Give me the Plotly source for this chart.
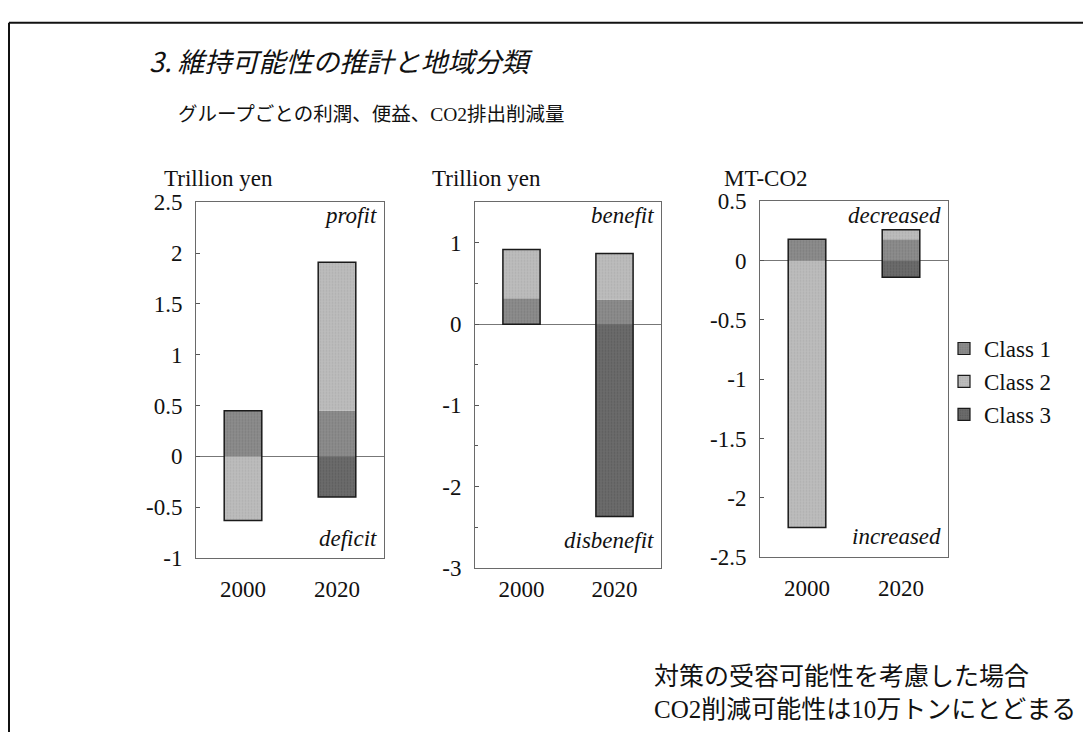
import plotly.graph_objects as go

W, H = 1083, 745

years = ["2000", "2020"]
class_names = ["Class 1", "Class 2", "Class 3"]
class_colors = ["#8c8c8c", "#bdbdbd", "#6b6b6b"]
class_grain = ["#6e6e6e", "#a0a0a0", "#4e4e4e"]

# profit / deficit by group (trillion yen)
profit_class1 = [0.45, 0.45]
profit_class2 = [-0.63, 1.46]
profit_class3 = [0.0, -0.40]

# benefit / disbenefit by group (trillion yen)
benefit_class1 = [0.32, 0.30]
benefit_class2 = [0.60, 0.57]
benefit_class3 = [0.0, -2.37]

# CO2 reduction by group (MT-CO2)
co2_class1 = [0.18, 0.18]
co2_class2 = [-2.25, 0.08]
co2_class3 = [0.0, -0.14]

profit_tickvals = [-1, -0.5, 0, 0.5, 1, 1.5, 2, 2.5]
profit_ticktext = ["-1", "-0.5", "0", "0.5", "1", "1.5", "2", "2.5"]
benefit_tickvals = [-3, -2, -1, 0, 1]
benefit_ticktext = ["-3", "-2", "-1", "0", "1"]
co2_tickvals = [-2.5, -2, -1.5, -1, -0.5, 0, 0.5]
co2_ticktext = ["-2.5", "-2", "-1.5", "-1", "-0.5", "0", "0.5"]

SERIF = "Liberation Serif, Times New Roman, serif"
MIXED = "Liberation Serif, Noto Sans CJK JP, serif"
GOTHIC = "Noto Sans CJK JP, sans-serif"
INK = "#111111"


def px(x):
    return x / W


def py(y):
    return 1 - y / H


def stack(series):
    """Bases for each segment, plus positive/negative totals per category."""
    n = len(series[0])
    pos = [0.0] * n
    neg = [0.0] * n
    bases = []
    for s in series:
        b = []
        for i, v in enumerate(s):
            if v >= 0:
                b.append(pos[i])
                pos[i] += v
            else:
                b.append(neg[i])
                neg[i] += v
        bases.append(b)
    return bases, pos, neg


def fill(color, grain):
    return dict(color=color,
                pattern=dict(shape=".", size=3, solidity=0.3,
                             fgcolor=grain, bgcolor=color, fillmode="overlay"))


panels = [
    dict(series=[profit_class1, profit_class2, profit_class3],
         xd=(196, 384), yd=(197, 565), rng=[-1, 2.5],
         tv=profit_tickvals, tt=profit_ticktext, minor=None,
         unit="Trillion yen", unit_x=162, top="profit", bottom="deficit",
         bottom_y=545, standoff=10),
    dict(series=[benefit_class1, benefit_class2, benefit_class3],
         xd=(475, 661), yd=(197, 575), rng=[-3, 1.5],
         tv=benefit_tickvals, tt=benefit_ticktext, minor=0.5,
         unit="Trillion yen", unit_x=430, top="benefit", bottom="disbenefit",
         bottom_y=547, standoff=1),
    dict(series=[co2_class1, co2_class2, co2_class3],
         xd=(760, 948), yd=(196, 564), rng=[-2.5, 0.5],
         tv=co2_tickvals, tt=co2_ticktext, minor=None,
         unit="MT-CO2", unit_x=722, top="decreased", bottom="increased",
         bottom_y=543, standoff=10),
]

fig = go.Figure()
annotations = []

for k, p in enumerate(panels, start=1):
    xa = "x" if k == 1 else f"x{k}"
    ya = "y" if k == 1 else f"y{k}"
    bases, pos, neg = stack(p["series"])
    for vals, base, color, grain, name in zip(p["series"], bases, class_colors,
                                              class_grain, class_names):
        m = fill(color, grain)
        m["line"] = dict(width=0)
        fig.add_trace(go.Bar(
            x=years, y=vals, base=base, width=0.4, name=name, marker=m,
            showlegend=False, xaxis=xa, yaxis=ya, hoverinfo="skip",
        ))
    # outline around each whole stacked column
    fig.add_trace(go.Bar(
        x=years, y=[a - b for a, b in zip(pos, neg)], base=neg, width=0.4,
        marker=dict(color="rgba(0,0,0,0)", line=dict(color="#1a1a1a", width=1.5)),
        showlegend=False, xaxis=xa, yaxis=ya, hoverinfo="skip",
    ))

    axis_suffix = "" if k == 1 else str(k)
    fig.layout["xaxis" + axis_suffix] = dict(
        domain=[px(p["xd"][0]), px(p["xd"][1])], anchor=ya, type="category",
        range=[-0.5, 1.5], showline=True, mirror=True, linecolor="#6a6a6a",
        linewidth=1, ticks="", showgrid=False, zeroline=False,
        tickfont=dict(family=SERIF, size=23, color=INK),
        ticklabelstandoff=p["standoff"],
    )
    yax = dict(
        domain=[py(p["yd"][1]), py(p["yd"][0])], anchor=xa, range=p["rng"],
        tickvals=p["tv"], ticktext=p["tt"], ticks="inside", ticklen=4,
        tickcolor="#555", showline=True, mirror=True, linecolor="#6a6a6a",
        linewidth=1, showgrid=False, zeroline=True, zerolinecolor="#777",
        zerolinewidth=1, tickfont=dict(family=SERIF, size=23, color=INK),
        ticklabelstandoff=8,
    )
    if p["minor"]:
        yax["minor"] = dict(dtick=p["minor"], ticks="inside", ticklen=3,
                            tickcolor="#555", showgrid=False)
    fig.layout["yaxis" + axis_suffix] = yax

    annotations.append(dict(
        text=p["unit"], x=px(p["unit_x"]), y=py(172), xref="paper", yref="paper",
        xanchor="left", yanchor="middle", showarrow=False,
        font=dict(family=SERIF, size=23, color=INK)))
    annotations.append(dict(
        text=f"<i>{p['top']}</i>", x=px(p["xd"][1] - 5), y=py(211),
        xref="paper", yref="paper", xanchor="right", yanchor="middle",
        showarrow=False, font=dict(family=SERIF, size=23, color=INK)))
    annotations.append(dict(
        text=f"<i>{p['bottom']}</i>", x=px(p["xd"][1] - 5), y=py(p["bottom_y"]),
        xref="paper", yref="paper", xanchor="right", yanchor="middle",
        showarrow=False, font=dict(family=SERIF, size=23, color=INK)))

# legend-only entries
for name, color, grain in zip(class_names, class_colors, class_grain):
    m = fill(color, grain)
    m["line"] = dict(color="#1a1a1a", width=1.2)
    fig.add_trace(go.Bar(
        x=[None], y=[None], name=name, marker=m,
        xaxis="x3", yaxis="y3", showlegend=True,
    ))

annotations += [
    dict(text="<i>3. 維持可能性の推計と地域分類</i>", x=px(147), y=py(50),
         xref="paper", yref="paper", xanchor="left", yanchor="middle",
         showarrow=False, font=dict(family=GOTHIC, size=27, color=INK)),
    dict(text="グループごとの利潤、便益、CO2排出削減量", x=px(176), y=py(106),
         xref="paper", yref="paper", xanchor="left", yanchor="middle",
         showarrow=False, font=dict(family=MIXED, size=19.5, color=INK)),
    dict(text="対策の受容可能性を考慮した場合<br>CO2削減可能性は10万トンにとどまる",
         x=px(652), y=py(705), xref="paper", yref="paper", xanchor="left",
         yanchor="middle", align="left", showarrow=False,
         font=dict(family=MIXED, size=25, color=INK)),
]

fig.update_layout(
    width=W, height=H, margin=dict(l=0, r=0, t=0, b=0),
    paper_bgcolor="white", plot_bgcolor="white", barmode="overlay",
    showlegend=True,
    legend=dict(x=px(944), y=py(326), xanchor="left", yanchor="top",
                font=dict(family=SERIF, size=23, color=INK),
                bgcolor="rgba(0,0,0,0)", itemwidth=30, tracegroupgap=0,
                traceorder="normal"),
    annotations=annotations,
    shapes=[
        dict(type="line", xref="paper", yref="paper", x0=px(9), x1=px(9),
             y0=py(11), y1=0, line=dict(color="#111", width=2)),
        dict(type="line", xref="paper", yref="paper", x0=px(9), x1=1,
             y0=py(11), y1=py(11), line=dict(color="#111", width=2)),
    ],
)

fig.write_html("out.html")
